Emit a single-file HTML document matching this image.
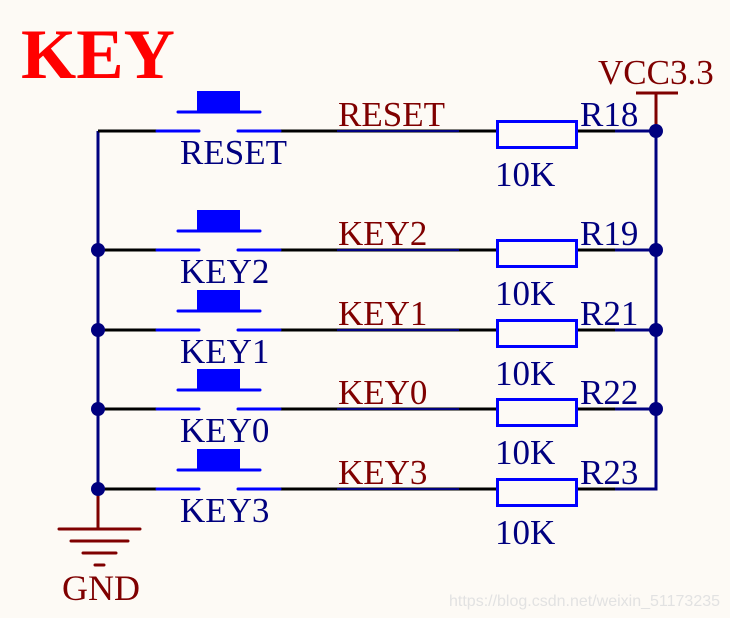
<!DOCTYPE html>
<html><head><style>body{margin:0;background:#fdfaf5}svg{display:block}</style></head><body>
<svg width="730" height="618" viewBox="0 0 730 618" xmlns="http://www.w3.org/2000/svg" font-family="Liberation Serif, serif">
<rect width="730" height="618" fill="#fdfaf5"/>
<text x="21" y="78" font-size="71" font-weight="bold" fill="#ff0000">KEY</text>
<line x1="98" y1="131" x2="98" y2="489" stroke="#00007f" stroke-width="3"/>
<line x1="98" y1="489" x2="98" y2="529" stroke="#7f0000" stroke-width="3"/>
<g stroke="#7f0000" stroke-width="3" stroke-linecap="round">
<line x1="59" y1="529" x2="140" y2="529"/>
<line x1="71" y1="541" x2="128" y2="541"/>
<line x1="83" y1="553" x2="116" y2="553"/>
<line x1="95" y1="565" x2="104" y2="565"/>
</g>
<text x="62" y="600" font-size="36" fill="#7f0000">GND</text>
<line x1="656" y1="92" x2="656" y2="489" stroke="#00007f" stroke-width="3"/>
<line x1="656" y1="92" x2="656" y2="124" stroke="#7f0000" stroke-width="3"/>
<line x1="636" y1="93" x2="678" y2="93" stroke="#7f0000" stroke-width="3"/>
<text x="598" y="84" font-size="35" fill="#7f0000">VCC3.3</text>

<g font-size="35">
<g transform="translate(0,131)">
<line x1="98" y1="0" x2="157" y2="0" stroke="#000" stroke-width="3"/>
<line x1="280" y1="0" x2="496" y2="0" stroke="#000" stroke-width="3"/>
<line x1="337" y1="0" x2="459" y2="0" stroke="#00007f" stroke-width="2"/>
<line x1="578" y1="0" x2="615" y2="0" stroke="#000" stroke-width="3"/>
<line x1="615" y1="0" x2="656" y2="0" stroke="#00007f" stroke-width="3"/>
<line x1="157" y1="0" x2="199" y2="0" stroke="#0000ff" stroke-width="3" stroke-linecap="round"/>
<line x1="238" y1="0" x2="280" y2="0" stroke="#0000ff" stroke-width="3" stroke-linecap="round"/>
<line x1="178" y1="-19" x2="260" y2="-19" stroke="#0000ff" stroke-width="3" stroke-linecap="round"/>
<rect x="197" y="-40" width="43" height="21" fill="#0000ff"/>
<rect x="497.5" y="-9.5" width="79" height="26" fill="none" stroke="#0000ff" stroke-width="3"/>
<text x="180" y="33" fill="#00007f">RESET</text>
<text x="338" y="-5" fill="#7f0000">RESET</text>
<text x="580" y="-5" fill="#00007f">R18</text>
<text x="495" y="55" fill="#00007f">10K</text>
<circle cx="656" cy="0" r="7" fill="#00007f"/>
</g>
<g transform="translate(0,250)">
<line x1="98" y1="0" x2="157" y2="0" stroke="#000" stroke-width="3"/>
<line x1="280" y1="0" x2="496" y2="0" stroke="#000" stroke-width="3"/>
<line x1="337" y1="0" x2="459" y2="0" stroke="#00007f" stroke-width="2"/>
<line x1="578" y1="0" x2="615" y2="0" stroke="#000" stroke-width="3"/>
<line x1="615" y1="0" x2="656" y2="0" stroke="#00007f" stroke-width="3"/>
<line x1="157" y1="0" x2="199" y2="0" stroke="#0000ff" stroke-width="3" stroke-linecap="round"/>
<line x1="238" y1="0" x2="280" y2="0" stroke="#0000ff" stroke-width="3" stroke-linecap="round"/>
<line x1="178" y1="-19" x2="260" y2="-19" stroke="#0000ff" stroke-width="3" stroke-linecap="round"/>
<rect x="197" y="-40" width="43" height="21" fill="#0000ff"/>
<rect x="497.5" y="-9.5" width="79" height="26" fill="none" stroke="#0000ff" stroke-width="3"/>
<text x="180" y="33" fill="#00007f">KEY2</text>
<text x="338" y="-5" fill="#7f0000">KEY2</text>
<text x="580" y="-5" fill="#00007f">R19</text>
<text x="495" y="55" fill="#00007f">10K</text>
<circle cx="656" cy="0" r="7" fill="#00007f"/>
<circle cx="98" cy="0" r="7" fill="#00007f"/>
</g>
<g transform="translate(0,330)">
<line x1="98" y1="0" x2="157" y2="0" stroke="#000" stroke-width="3"/>
<line x1="280" y1="0" x2="496" y2="0" stroke="#000" stroke-width="3"/>
<line x1="337" y1="0" x2="459" y2="0" stroke="#00007f" stroke-width="2"/>
<line x1="578" y1="0" x2="615" y2="0" stroke="#000" stroke-width="3"/>
<line x1="615" y1="0" x2="656" y2="0" stroke="#00007f" stroke-width="3"/>
<line x1="157" y1="0" x2="199" y2="0" stroke="#0000ff" stroke-width="3" stroke-linecap="round"/>
<line x1="238" y1="0" x2="280" y2="0" stroke="#0000ff" stroke-width="3" stroke-linecap="round"/>
<line x1="178" y1="-19" x2="260" y2="-19" stroke="#0000ff" stroke-width="3" stroke-linecap="round"/>
<rect x="197" y="-40" width="43" height="21" fill="#0000ff"/>
<rect x="497.5" y="-9.5" width="79" height="26" fill="none" stroke="#0000ff" stroke-width="3"/>
<text x="180" y="33" fill="#00007f">KEY1</text>
<text x="338" y="-5" fill="#7f0000">KEY1</text>
<text x="580" y="-5" fill="#00007f">R21</text>
<text x="495" y="55" fill="#00007f">10K</text>
<circle cx="656" cy="0" r="7" fill="#00007f"/>
<circle cx="98" cy="0" r="7" fill="#00007f"/>
</g>
<g transform="translate(0,409)">
<line x1="98" y1="0" x2="157" y2="0" stroke="#000" stroke-width="3"/>
<line x1="280" y1="0" x2="496" y2="0" stroke="#000" stroke-width="3"/>
<line x1="337" y1="0" x2="459" y2="0" stroke="#00007f" stroke-width="2"/>
<line x1="578" y1="0" x2="615" y2="0" stroke="#000" stroke-width="3"/>
<line x1="615" y1="0" x2="656" y2="0" stroke="#00007f" stroke-width="3"/>
<line x1="157" y1="0" x2="199" y2="0" stroke="#0000ff" stroke-width="3" stroke-linecap="round"/>
<line x1="238" y1="0" x2="280" y2="0" stroke="#0000ff" stroke-width="3" stroke-linecap="round"/>
<line x1="178" y1="-19" x2="260" y2="-19" stroke="#0000ff" stroke-width="3" stroke-linecap="round"/>
<rect x="197" y="-40" width="43" height="21" fill="#0000ff"/>
<rect x="497.5" y="-9.5" width="79" height="26" fill="none" stroke="#0000ff" stroke-width="3"/>
<text x="180" y="33" fill="#00007f">KEY0</text>
<text x="338" y="-5" fill="#7f0000">KEY0</text>
<text x="580" y="-5" fill="#00007f">R22</text>
<text x="495" y="55" fill="#00007f">10K</text>
<circle cx="656" cy="0" r="7" fill="#00007f"/>
<circle cx="98" cy="0" r="7" fill="#00007f"/>
</g>
<g transform="translate(0,489)">
<line x1="98" y1="0" x2="157" y2="0" stroke="#000" stroke-width="3"/>
<line x1="280" y1="0" x2="496" y2="0" stroke="#000" stroke-width="3"/>
<line x1="337" y1="0" x2="459" y2="0" stroke="#00007f" stroke-width="2"/>
<line x1="578" y1="0" x2="615" y2="0" stroke="#000" stroke-width="3"/>
<line x1="615" y1="0" x2="657.5" y2="0" stroke="#00007f" stroke-width="3"/>
<line x1="157" y1="0" x2="199" y2="0" stroke="#0000ff" stroke-width="3" stroke-linecap="round"/>
<line x1="238" y1="0" x2="280" y2="0" stroke="#0000ff" stroke-width="3" stroke-linecap="round"/>
<line x1="178" y1="-19" x2="260" y2="-19" stroke="#0000ff" stroke-width="3" stroke-linecap="round"/>
<rect x="197" y="-40" width="43" height="21" fill="#0000ff"/>
<rect x="497.5" y="-9.5" width="79" height="26" fill="none" stroke="#0000ff" stroke-width="3"/>
<text x="180" y="33" fill="#00007f">KEY3</text>
<text x="338" y="-5" fill="#7f0000">KEY3</text>
<text x="580" y="-5" fill="#00007f">R23</text>
<text x="495" y="55" fill="#00007f">10K</text>
<circle cx="98" cy="0" r="7" fill="#00007f"/>
</g>
</g>
<text x="449" y="606" font-family="Liberation Sans, sans-serif" font-size="16" fill="#e2e2e2">https://blog.csdn.net/weixin_51173235</text>
</svg>
</body></html>
